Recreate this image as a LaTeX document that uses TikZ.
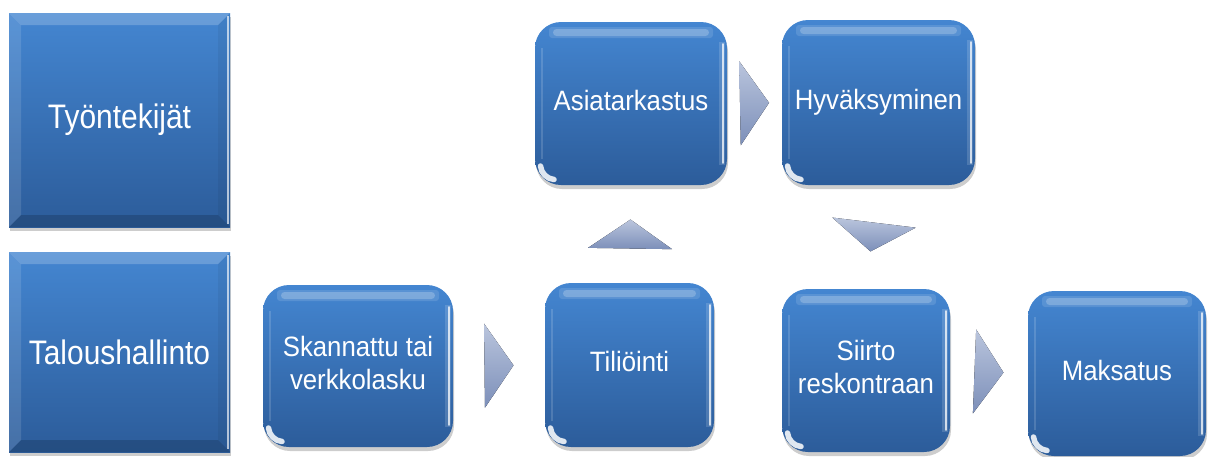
\documentclass[tikz,border=0pt]{standalone}
\usepackage{fontspec}
\setmainfont{Liberation Sans}
\usetikzlibrary{calc,shadows}
\definecolor{btop}{HTML}{4486D1}
\definecolor{bbot}{HTML}{2C5C9A}
\definecolor{atop}{HTML}{BAC5DD}
\definecolor{abot}{HTML}{7C8FB9}
\newcommand\bt[1]{\scalebox{0.92}[1]{\begin{tabular}{@{}c@{}}#1\end{tabular}}}
\newcommand\lt[1]{\scalebox{0.88}[1]{#1}}
\def\pb{path picture bounding box}
\tikzset{
  boxshadow/.style={drop shadow={shadow xshift=1pt, shadow yshift=-4pt, opacity=.28, fill=black!70}},
  sqbox/.style={rectangle, inner sep=0pt, top color=btop, bottom color=bbot, boxshadow,
    text=white, font=\fontsize{34}{40}\selectfont,
    path picture={
      \fill[white, opacity=.2, sharp corners] (\pb.north west) -- (\pb.north east) -- ([xshift=-12pt,yshift=-12pt]\pb.north east) -- ([xshift=12pt,yshift=-12pt]\pb.north west) -- cycle;
      \fill[white, opacity=.12, sharp corners] (\pb.north west) -- (\pb.south west) -- ([xshift=12pt,yshift=12pt]\pb.south west) -- ([xshift=12pt,yshift=-12pt]\pb.north west) -- cycle;
      \fill[black, opacity=.16, sharp corners] (\pb.south west) -- (\pb.south east) -- ([xshift=-12pt,yshift=12pt]\pb.south east) -- ([xshift=12pt,yshift=12pt]\pb.south west) -- cycle;
      \fill[black, opacity=.05, sharp corners] (\pb.north east) -- (\pb.south east) -- ([xshift=-12pt,yshift=12pt]\pb.south east) -- ([xshift=-12pt,yshift=-12pt]\pb.north east) -- cycle;
      \draw[white, opacity=.65, line width=1.5pt, sharp corners] ([xshift=-1.8pt,yshift=-3pt]\pb.north east) -- ([xshift=-1.8pt,yshift=3pt]\pb.south east);
    }},
  rbox/.style={rectangle, rounded corners=26pt, inner sep=0pt, top color=btop, bottom color=bbot, boxshadow,
    text=white, font=\fontsize{28}{33}\selectfont,
    path picture={
      \fill[white, opacity=.22, rounded corners=3.5pt] ([xshift=18pt,yshift=-7pt]\pb.north west) rectangle ([xshift=-18pt,yshift=-14pt]\pb.north east);
      \fill[white, opacity=.12, rounded corners=3pt] ([xshift=14pt,yshift=-5pt]\pb.north west) rectangle ([xshift=-14pt,yshift=-16pt]\pb.north east);
      \fill[white, opacity=.15, sharp corners] ([xshift=-8pt,yshift=-20pt]\pb.north east) rectangle ([xshift=-2pt,yshift=20pt]\pb.south east);
      \draw[white, opacity=.75, line width=1.6pt, line cap=round, sharp corners] ([xshift=-4pt,yshift=-22pt]\pb.north east) -- ([xshift=-4pt,yshift=22pt]\pb.south east);
      \draw[white, opacity=.15, line width=2pt, sharp corners] ([xshift=7pt,yshift=-26pt]\pb.north west) -- ([xshift=7pt,yshift=26pt]\pb.south west);
      \draw[white, opacity=.85, line width=5.5pt, line cap=round, sharp corners] ([xshift=5.5pt,yshift=19pt]\pb.south west) .. controls ([xshift=6pt,yshift=12pt]\pb.south west) and ([xshift=12pt,yshift=6pt]\pb.south west) .. ([xshift=19pt,yshift=5.5pt]\pb.south west);
    }},
  chevron/.style={top color=atop, bottom color=abot, draw=none}
}
\newcommand\chev[2]{%
  \coordinate (cm) at ($(#1)!0.5!(#2)$);
  \coordinate (ct) at ($(cm)!14.5pt!(#2)$);
  \coordinate (cb) at ($(cm)!-14.5pt!(#2)$);
  \fill[chevron] (ct) -- ($(cb)!42pt!90:(cm)$) -- ($(cb)!42pt!-90:(cm)$) -- cycle;
}
\begin{document}
\begin{tikzpicture}[x=1pt, y=-1pt]
\useasboundingbox (0,0) rectangle (1209,456);
\node[sqbox, minimum width=221pt, minimum height=214pt] (tyo) at (119.5,120) {\lt{Työntekijät}};
\node[sqbox, minimum width=221pt, minimum height=200pt] (talous) at (119.5,352) {\lt{Taloushallinto}};
\node[rbox, minimum width=190pt, minimum height=162pt] (skann) at (358,366) {\bt{Skannattu tai\\verkkolasku}};
\node[rbox, minimum width=169pt, minimum height=164pt] (tili) at (629.5,365) {\bt{Tiliöinti}};
\node[rbox, minimum width=192pt, minimum height=163pt] (asia) at (631,103.5) {\bt{Asiatarkastus}};
\node[rbox, minimum width=193pt, minimum height=165pt] (hyv) at (878.5,102.5) {\bt{Hyväksyminen}};
\node[rbox, minimum width=168pt, minimum height=163pt] (siirto) at (866,370.5) {\bt{Siirto\\reskontraan}};
\node[rbox, minimum width=178pt, minimum height=165pt] (maks) at (1117,373.5) {\bt{Maksatus}};
\chev{skann.east}{tili.west}
\chev{tili.north}{asia.south}
\chev{asia.east}{hyv.west}
\chev{hyv.south}{siirto.north}
\chev{siirto.east}{maks.west}
\end{tikzpicture}
\end{document}
